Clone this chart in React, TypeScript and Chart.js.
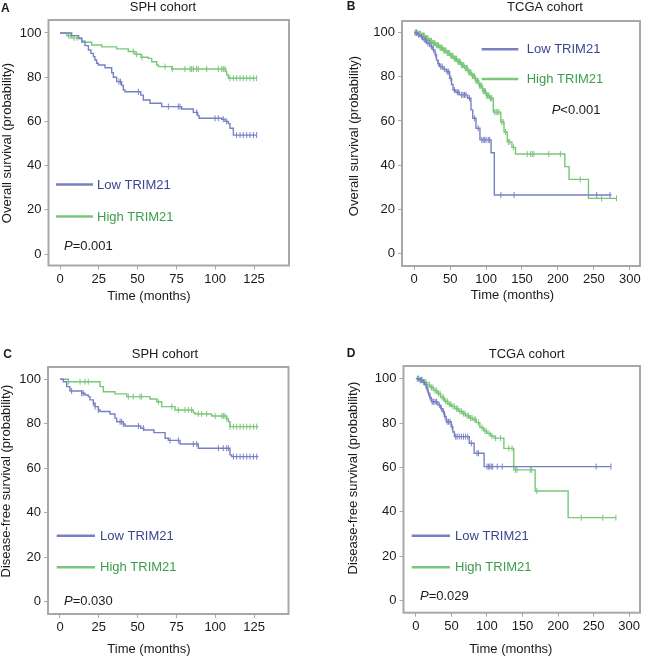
import React, { useEffect, useRef } from 'react';
import { Chart, registerables } from 'chart.js';

Chart.register(...registerables);

const FONT = '"Liberation Sans", Arial, Helvetica, sans-serif';
const BLUE = '#7880c4';
const GREEN = '#79c77a';
const BLUE_TEXT = '#3d4590';
const GREEN_TEXT = '#3c9e4c';
const FRAME = '#a8a8a8';
const INK = '#1a1a1a';

const GROUPS = ['Low TRIM21', 'High TRIM21'];
const SPH_X_TICKS = [0, 25, 50, 75, 100, 125];
const TCGA_X_TICKS = [0, 50, 100, 150, 200, 250, 300];
const Y_TICKS = [0, 20, 40, 60, 80, 100];

// ---- Panel A: SPH cohort, overall survival ----
const A_LOW_T = [0, 7.5, 12, 14, 16.1, 18.3, 19.9, 21.5, 22.5, 23.6, 24.7, 29, 33.3, 34.4, 36.5, 39.7, 40.8, 41.9, 52, 53.7, 58, 65.5, 78.4, 85.9, 88.7, 89.6, 104.2, 106.3, 108.5, 109.5, 111.7];
const A_LOW_S = [100, 98.8, 97.5, 96.3, 94.3, 92.3, 90.8, 89.3, 87.8, 86.3, 85.5, 84.3, 82, 80, 78, 76.3, 74.2, 73.4, 71.9, 69.7, 68.2, 66.7, 65.6, 64.1, 62.6, 61.4, 61, 60, 59, 56.9, 53.8];
const A_LOW_END = 126.7;
const A_LOW_C = [38, 39, 50.5, 69.8, 76.2, 77.3, 88.1, 99.9, 102, 105.2, 107.4, 113.8, 116, 118.1, 120.3, 122.4, 124.6, 126.7];
const A_HIGH_T = [0, 4.3, 7.5, 14, 20.4, 26.9, 36.5, 44, 48.3, 52.2, 56.9, 59.1, 62.3, 63.4, 72, 106.8, 107.4, 108.5];
const A_HIGH_S = [100, 98.8, 97.8, 95.8, 94.6, 93.7, 92.8, 91.6, 90.4, 89, 88.5, 87, 85.5, 84.8, 83.7, 82.5, 81, 79.5];
const A_HIGH_END = 126.7;
const A_HIGH_C = [5.5, 6.5, 9, 11, 47.2, 49.4, 52.8, 67.7, 72.4, 80.5, 83.8, 84.8, 85.9, 88, 89.1, 94.5, 102, 104.2, 105.2, 106.3, 109.5, 111.7, 113.8, 116, 118.1, 120.3, 122.4, 124.6, 126.7];

// ---- Panel B: TCGA cohort, overall survival ----
const B_LOW_T = [0, 4, 8, 12, 17, 22, 26, 29, 31, 33, 35.5, 40, 44.7, 49.3, 52, 54, 58, 63, 74.5, 79, 81.5, 86, 91.5, 107, 111.5];
const B_LOW_S = [100, 99, 98.2, 96.8, 95.2, 93.7, 92.2, 90, 87.6, 86, 84.6, 83.5, 82.3, 79.3, 76.5, 74, 73, 71.8, 70.3, 65, 61.2, 56.7, 51.4, 45.6, 26.4];
const B_LOW_END = 274.5;
const B_LOW_C = [3, 6, 10, 14, 16, 19, 21, 24, 27, 30, 34, 37, 39, 42, 46, 48, 51, 56, 60, 62, 66, 68, 70, 72, 77, 84, 89, 94, 96, 98, 100, 103, 105, 120.6, 139, 254, 272.4];
const B_HIGH_T = [0, 5, 10, 15, 20, 25, 30, 35, 40, 45, 50, 55, 60, 65, 70, 75, 80, 85, 90, 95, 100, 105, 110, 120.5, 125, 129.5, 136, 141, 209.6, 215.5, 242.5];
const B_HIGH_S = [100, 99.5, 98.7, 97.5, 96.3, 95.2, 94.3, 93.2, 92, 90.8, 89.5, 88.2, 86.8, 85.3, 83.9, 82, 80.3, 78.2, 76, 73.5, 71.5, 70.3, 64, 59.5, 55, 50.5, 48, 45, 39.3, 33.5, 24.9];
const B_HIGH_END = 281.5;
const B_HIGH_C = [1, 2, 3, 4, 6, 7, 8, 9, 11, 12, 13, 14, 16, 17, 18, 19, 21, 22, 23, 24, 26, 27, 28, 29, 31, 32, 33, 34, 36, 37, 38, 39, 41, 42, 43, 44, 46, 47, 48, 49, 51, 52, 53, 54, 56, 57, 58, 59, 61, 62, 63, 64, 66, 67, 68, 69, 71, 72, 73, 74, 76, 77, 78, 79, 81, 82, 83, 84, 86, 87, 88, 89, 91, 92, 93, 94, 96, 97, 98, 99, 101, 102, 103, 104, 106, 107, 108, 112, 114, 116, 118, 122, 124, 127, 131, 133, 138, 157.3, 162, 164.3, 166.5, 187.2, 203.4, 231, 260.8, 281.5];

// ---- Panel C: SPH cohort, disease-free survival ----
const C_LOW_T = [0, 2.1, 4.3, 6.4, 14, 16.1, 18.2, 19.3, 21.5, 22.6, 24.7, 25.8, 32.2, 35.4, 36.5, 40.8, 41.9, 52, 54, 60.5, 67.7, 69.8, 77.3, 89.1, 109.5, 110.6];
const C_LOW_S = [100, 98.9, 96.7, 94.7, 93.7, 92.9, 92.2, 90.7, 89.2, 87.7, 86.2, 85.5, 84.4, 82.5, 80.9, 79.9, 79, 78, 77.2, 76, 73.5, 72.5, 70.9, 69, 66, 65.2];
const C_LOW_END = 127.8;
const C_LOW_C = [7.5, 14, 15, 21.5, 22.6, 24.7, 38.7, 39.7, 40.8, 50.5, 53.7, 70.9, 76.2, 85.9, 88.1, 102, 105.2, 107.4, 108.5, 111.7, 113.8, 116, 118.1, 120.3, 122.4, 124.6, 126.7];
const C_HIGH_T = [0, 5.4, 25.8, 27.9, 35.4, 43, 58, 62.3, 65.5, 74.1, 85.9, 87, 97.7, 107.4, 108.5, 109.5];
const C_HIGH_S = [100, 98.9, 96.7, 94.4, 93.4, 92.2, 91.1, 89.9, 87.7, 86.2, 85, 84.4, 83.5, 82.3, 80.9, 78.7];
const C_HIGH_END = 127.8;
const C_HIGH_C = [5.4, 12.9, 16.1, 18.2, 44, 47.2, 51.5, 52.6, 63.4, 72, 76.2, 80.5, 82.7, 84.8, 89.1, 91.3, 94.5, 99.9, 104.2, 105.2, 106.3, 107.4, 109.5, 111.7, 113.8, 116, 118.1, 120.3, 122.4, 124.6, 126.7];

// ---- Panel D: TCGA cohort, disease-free survival ----
const D_LOW_T = [0, 5, 10, 12.5, 15, 17.2, 19.5, 21.8, 31, 35, 38, 40, 42.7, 49.7, 52, 54.2, 75.1, 82, 96];
const D_LOW_S = [100, 99.3, 98.4, 97.2, 95.3, 93.4, 91.5, 89.6, 88.1, 86.5, 85.1, 83, 80.6, 78.3, 76, 73.9, 70.9, 66.4, 60.4];
const D_LOW_END = 274.5;
const D_LOW_C = [3, 6, 8, 11, 14, 16, 18, 20, 23, 25, 27, 29, 33, 36, 39, 41, 44, 46, 48, 51, 56, 58, 61, 64, 67, 70, 73, 78, 86, 88, 100, 102, 104, 106, 108, 114.5, 121.5, 253.6, 274.4];
const D_HIGH_T = [0, 5, 10, 15, 20, 25, 30, 35, 40, 45, 50, 55, 60, 65, 70, 75, 80, 85, 90, 95, 100, 105, 110, 123.8, 137.7, 167.8, 214.2];
const D_HIGH_S = [100, 99.5, 98.5, 97.2, 96, 94.6, 93.3, 91.5, 89.8, 88.5, 87.5, 86.5, 85.3, 84.3, 83.3, 82.3, 81.6, 80.2, 78, 76.5, 75.4, 74.2, 73.2, 68.6, 58.9, 49.4, 37.4];
const D_HIGH_END = 281.4;
const D_HIGH_C = [2, 4, 7, 9, 12, 14, 17, 19, 22, 24, 27, 29, 32, 34, 37, 39, 42, 44, 47, 49, 52, 54, 57, 59, 62, 64, 67, 69, 72, 74, 77, 79, 82, 84, 88, 93, 97, 99, 103, 107, 112.2, 119.2, 130.7, 135.3, 140, 142.3, 160.9, 163.1, 170.1, 232.7, 262.9, 281.4];

function kmDatasets(t: number[], s: number[], end: number, censor: number[], color: string, label: string) {
  const pts = t.map((x, i) => ({ x, y: s[i] }));
  pts.push({ x: end, y: s[s.length - 1] });
  const at = (x: number) => {
    let v = s[0];
    for (let i = 0; i < t.length; i++) if (t[i] <= x) v = s[i];
    return v;
  };
  return [
    {
      type: 'line', label, data: pts, stepped: 'before', borderColor: color, borderWidth: 1.4,
      pointRadius: 0, fill: false,
    },
    {
      type: 'line', label: label + ' (censored)', data: censor.map((x) => ({ x, y: at(x) })), showLine: false,
      pointStyle: 'line', rotation: 90, pointRadius: 3, pointBorderColor: color, borderColor: color,
      pointBorderWidth: 1, pointBackgroundColor: color,
    },
  ];
}

const PANELS = [
  {
    key: 'A', left: 0, top: 0, w: 320, h: 330,
    area: { left: 48.5, top: 20, right: 289, bottom: 265.5 },
    xr: { min: -7.41, max: 147.55, ticks: SPH_X_TICKS }, yr: { min: -5.2, max: 105.88 },
    letter: { x: 1, y: 8.5 }, title: { text: 'SPH cohort', x: 163, y: 7 },
    ytitle: { text: 'Overall survival (probability)', x: 7.5, y: 143 }, xtitle: { text: 'Time (months)', x: 149, y: 296 },
    legend: { x1: 56, x2: 93, tx: 97, y1: 184.5, y2: 216.5 }, p: { text: '=0.001', x: 64, y: 246.5 },
    data: [
      ...kmDatasets(A_LOW_T, A_LOW_S, A_LOW_END, A_LOW_C, BLUE, GROUPS[0]),
      ...kmDatasets(A_HIGH_T, A_HIGH_S, A_HIGH_END, A_HIGH_C, GREEN, GROUPS[1]),
    ],
  },
  {
    key: 'B', left: 320, top: 0, w: 325, h: 330,
    area: { left: 82, top: 21, right: 322, bottom: 266 },
    xr: { min: -16.97, max: 314.2, ticks: TCGA_X_TICKS }, yr: { min: -5.76, max: 105.3 },
    letter: { x: 26.7, y: 7 }, title: { text: 'TCGA cohort', x: 225, y: 7 },
    ytitle: { text: 'Overall survival (probability)', x: 34, y: 136 }, xtitle: { text: 'Time (months)', x: 192.5, y: 295 },
    legend: { x1: 161.7, x2: 198.3, tx: 206.7, y1: 49.3, y2: 79 }, p: { text: '<0.001', x: 231.7, y: 110 },
    data: [
      ...kmDatasets(B_LOW_T, B_LOW_S, B_LOW_END, B_LOW_C, BLUE, GROUPS[0]),
      ...kmDatasets(B_HIGH_T, B_HIGH_S, B_HIGH_END, B_HIGH_C, GREEN, GROUPS[1]),
    ],
  },
  {
    key: 'C', left: 0, top: 330, w: 320, h: 327,
    area: { left: 48, top: 37, right: 288.5, bottom: 284 },
    xr: { min: -7.73, max: 147.2, ticks: SPH_X_TICKS }, yr: { min: -5.53, max: 105.5 },
    letter: { x: 3.3, y: 25 }, title: { text: 'SPH cohort', x: 165, y: 24 },
    ytitle: { text: 'Disease-free survival (probability)', x: 6.7, y: 151 }, xtitle: { text: 'Time (months)', x: 149, y: 319.3 },
    legend: { x1: 56.7, x2: 95, tx: 100, y1: 205.7, y2: 237.3 }, p: { text: '=0.030', x: 64, y: 271.7 },
    data: [
      ...kmDatasets(C_LOW_T, C_LOW_S, C_LOW_END, C_LOW_C, BLUE, GROUPS[0]),
      ...kmDatasets(C_HIGH_T, C_HIGH_S, C_HIGH_END, C_HIGH_C, GREEN, GROUPS[1]),
    ],
  },
  {
    key: 'D', left: 320, top: 330, w: 325, h: 327,
    area: { left: 83.5, top: 36, right: 322.7, bottom: 282.7 },
    xr: { min: -17.4, max: 315.3, ticks: TCGA_X_TICKS }, yr: { min: -5.4, max: 105.7 },
    letter: { x: 26.7, y: 23.3 }, title: { text: 'TCGA cohort', x: 206.7, y: 24 },
    ytitle: { text: 'Disease-free survival (probability)', x: 33.3, y: 148 }, xtitle: { text: 'Time (months)', x: 190.8, y: 319.3 },
    legend: { x1: 91.7, x2: 130, tx: 135, y1: 205.7, y2: 237.3 }, p: { text: '=0.029', x: 100, y: 266.7 },
    data: [
      ...kmDatasets(D_LOW_T, D_LOW_S, D_LOW_END, D_LOW_C, BLUE, GROUPS[0]),
      ...kmDatasets(D_HIGH_T, D_HIGH_S, D_HIGH_END, D_HIGH_C, GREEN, GROUPS[1]),
    ],
  },
];

function makeDecor(p: any) {
  return {
    id: 'decor' + p.key,
    afterDraw(chart: any) {
      const ctx = chart.ctx;
      const ca = chart.chartArea;
      ctx.save();
      ctx.strokeStyle = FRAME;
      ctx.lineWidth = 2;
      ctx.strokeRect(ca.left, ca.top, ca.right - ca.left, ca.bottom - ca.top);

      ctx.fillStyle = INK;
      ctx.textBaseline = 'middle';
      ctx.textAlign = 'left';
      ctx.font = 'bold 12px ' + FONT;
      ctx.fillText(p.key, p.letter.x, p.letter.y);

      ctx.font = '13px ' + FONT;
      ctx.textAlign = 'center';
      ctx.fillText(p.title.text, p.title.x, p.title.y);
      ctx.fillText(p.xtitle.text, p.xtitle.x, p.xtitle.y);
      ctx.save();
      ctx.translate(p.ytitle.x, p.ytitle.y);
      ctx.rotate(-Math.PI / 2);
      ctx.fillText(p.ytitle.text, 0, 0);
      ctx.restore();

      // legend
      const lg = p.legend;
      const rows = [
        { y: lg.y1, line: BLUE, text: BLUE_TEXT, label: chart.data.datasets[0].label },
        { y: lg.y2, line: GREEN, text: GREEN_TEXT, label: chart.data.datasets[2].label },
      ];
      ctx.textAlign = 'left';
      rows.forEach((r) => {
        ctx.strokeStyle = r.line;
        ctx.lineWidth = 2.6;
        ctx.beginPath();
        ctx.moveTo(lg.x1, r.y);
        ctx.lineTo(lg.x2, r.y);
        ctx.stroke();
        ctx.fillStyle = r.text;
        ctx.font = '13px ' + FONT;
        ctx.fillText(r.label, lg.tx, r.y + 0.5);
      });

      // P value
      ctx.fillStyle = INK;
      ctx.font = 'italic 13px ' + FONT;
      ctx.fillText('P', p.p.x, p.p.y);
      const w = ctx.measureText('P').width;
      ctx.font = '13px ' + FONT;
      ctx.fillText(p.p.text, p.p.x + w, p.p.y);
      ctx.restore();
    },
  };
}

function Panel({ p }: { p: any }) {
  const ref = useRef<HTMLCanvasElement | null>(null);
  useEffect(() => {
    if (!ref.current) return;
    const axisCommon = {
      type: 'linear',
      border: { display: false },
      grid: { display: true, drawOnChartArea: false, drawTicks: true, tickLength: 4, color: FRAME, lineWidth: 1 },
      title: { display: false },
    };
    const chart = new Chart(ref.current, {
      type: 'line',
      data: { datasets: p.data },
      options: {
        responsive: false,
        animation: false,
        devicePixelRatio: 1,
        layout: { padding: { left: 0, top: p.area.top, right: p.w - p.area.right, bottom: 0 } },
        plugins: { legend: { display: false }, tooltip: { enabled: false }, title: { display: false } },
        scales: {
          x: {
            ...axisCommon,
            position: 'bottom',
            min: p.xr.min,
            max: p.xr.max,
            ticks: { autoSkip: false, maxRotation: 0, padding: 2, color: INK, font: { family: FONT, size: 13 } },
            afterBuildTicks: (s: any) => { s.ticks = p.xr.ticks.map((v: number) => ({ value: v })); },
            afterFit: (s: any) => { s.height = p.h - p.area.bottom; },
          },
          y: {
            ...axisCommon,
            position: 'left',
            min: p.yr.min,
            max: p.yr.max,
            ticks: { autoSkip: false, padding: 3, color: INK, font: { family: FONT, size: 13 } },
            afterBuildTicks: (s: any) => { s.ticks = Y_TICKS.map((v: number) => ({ value: v })); },
            afterFit: (s: any) => { s.width = p.area.left; },
          },
        },
      },
      plugins: [makeDecor(p)],
    } as any);
    return () => chart.destroy();
  }, [p]);
  return (
    <div style={{ position: 'absolute', left: p.left, top: p.top, width: p.w, height: p.h }}>
      <canvas ref={ref} width={p.w} height={p.h} style={{ width: p.w, height: p.h, display: 'block' }} />
    </div>
  );
}

export default function App() {
  return (
    <div style={{ position: 'absolute', left: 0, top: 0, width: 645, height: 657, background: '#ffffff', overflow: 'hidden' }}>
      {PANELS.map((p) => (
        <Panel key={p.key} p={p} />
      ))}
    </div>
  );
}
